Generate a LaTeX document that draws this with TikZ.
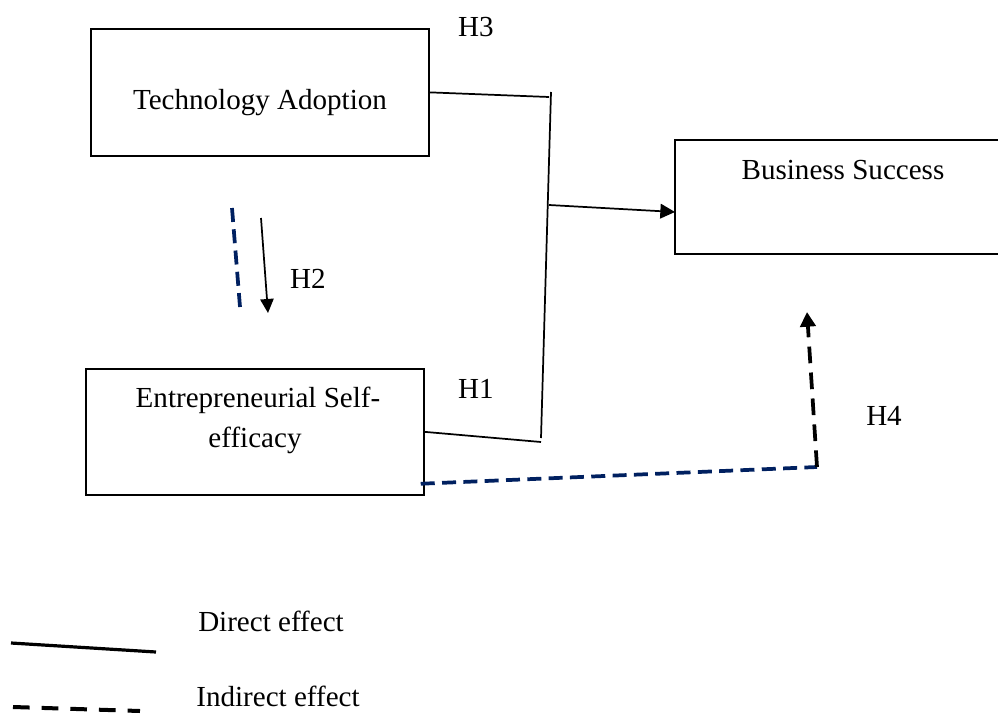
\documentclass[tikz,border=0pt]{standalone}
\usepackage{fontspec}
\setmainfont{Liberation Serif}
\usetikzlibrary{arrows.meta,calc}
\definecolor{navy}{RGB}{0,32,96}
\begin{document}
\begin{tikzpicture}[x=0.75pt,y=-0.75pt,
  box/.style={draw, line width=1.3pt, inner sep=0pt, anchor=north west},
  lbl/.style={font=\fontsize{21.8}{26}\selectfont, inner sep=0pt},
  direct/.style={line width=1.3pt},
  indirect/.style={line width=2.8pt, dash pattern=on 10.5pt off 5.5pt},
  tipa/.style={-{Triangle[length=11pt,width=11pt]}}]
\useasboundingbox (0,0) rectangle (998,713);
% boxes
\node[box, minimum width=253.5pt, minimum height=95.25pt] (ta) at (90,28) {};
\node[box, minimum width=243pt, minimum height=85.5pt] (bs) at (674,139) {};
\node[box, minimum width=253.5pt, minimum height=94.5pt] (ese) at (85,368) {};
% box texts
\node[lbl] (tat) at (260,103) {Technology Adoption};
\node[lbl] (bst) at (843,170) {Business Success};
\node[lbl] (eset1) at (258,400) {Entrepreneurial Self-};
\node[lbl] (eset2) at (255,440) {efficacy};
% hypothesis labels
\node[lbl] (h3) at (476,27) {H3};
\node[lbl] (h1) at (476,389) {H1};
\node[lbl] (h2) at (308,279) {H2};
\node[lbl] (h4) at (884,416) {H4};
% junction coordinates
\coordinate (jt) at (549,97);
\coordinate (vt) at (551,92);
\coordinate (vb) at (541,438);
\coordinate (jb) at (541,442);
\coordinate (jm) at (549,205);
\coordinate (bsin) at (675,212);
% direct paths
\draw[direct] (ta.east) -- (jt);
\draw[direct] (vt) -- (vb);
\draw[direct] (ese.east) -- (jb);
\draw[direct, tipa] (jm) -- (bsin);
% H2
\coordinate (d2a) at (232,208);
\coordinate (d2b) at (240,307);
\coordinate (a2a) at (261,218);
\coordinate (a2b) at (268,313);
\draw[indirect, navy] (d2a) -- (d2b);
\draw[direct, -{Triangle[length=10.5pt,width=10pt]}] (a2a) -- (a2b);
% H4 indirect path
\coordinate (esel) at ($(ese.south east)+(-4,-12)$);
\coordinate (corner) at (817,467);
\coordinate (h4tip) at (807,312);
\draw[indirect, navy] (esel) -- (corner);
\draw[indirect, dash pattern=on 12.5pt off 7pt, -{Triangle[length=11pt,width=11.5pt]}] (corner) -- (h4tip);
% legend
\coordinate (ls1) at (11,643);
\coordinate (ls2) at (156,652);
\coordinate (ld1) at (13,707);
\coordinate (ld2) at (140,711);
\draw[line width=2.4pt] (ls1) -- (ls2);
\draw[line width=3pt, dash pattern=on 12.5pt off 9pt] (ld1) -- (ld2);
\node[lbl] (ldir) at (271,621) {Direct effect};
\node[lbl] (lind) at (278,696) {Indirect effect};
\end{tikzpicture}
\end{document}
